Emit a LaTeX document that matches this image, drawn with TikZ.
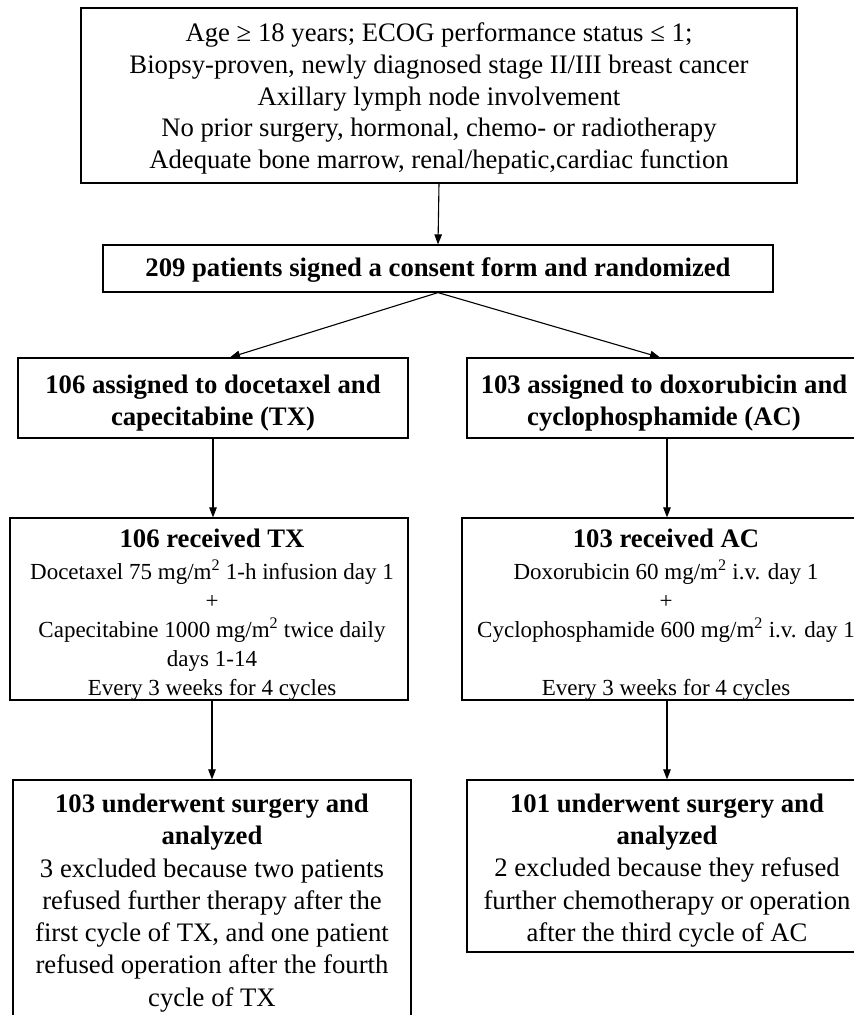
\documentclass[tikz,border=0pt]{standalone}
\usepackage{fontspec}
\setmainfont{Liberation Serif}
\usetikzlibrary{arrows.meta,calc}
\begin{document}
\begin{tikzpicture}[x=1pt,y=-1pt,
  box/.style={draw, line width=1.2pt, inner sep=0pt},
  txt/.style={align=center, inner sep=0pt, font=\fontsize{26.7}{32}\selectfont},
  btxt/.style={txt, font=\fontsize{26.7}{32}\selectfont\bfseries},
  arr/.style={line width=1.1pt, -{Triangle[length=10pt,width=7.5pt]}}]
\useasboundingbox (0,0) rectangle (854,1015);
% boxes
\node[box, minimum width=716pt, minimum height=175pt] (top) at (439,95.5) {};
\node[box, minimum width=670pt, minimum height=47pt] (rand) at (438,268.5) {};
\node[box, minimum width=390pt, minimum height=80pt] (al) at (213,398) {};
\node[box, minimum width=394pt, minimum height=80pt] (ar) at (664,398) {};
\node[box, minimum width=398pt, minimum height=182pt] (rl) at (209,609) {};
\node[box, minimum width=408pt, minimum height=182pt] (rr) at (666,609) {};
\node[box, minimum width=398pt, minimum height=242pt] (sl) at (212,901) {};
\node[box, minimum width=400pt, minimum height=172pt] (sr) at (667,866) {};
% texts
\node[txt, font=\fontsize{26.7}{31.8}\selectfont] (topt) at (439,98.5)
  {Age ≥ 18 years; ECOG performance status ≤ 1;\\
   Biopsy-proven, newly diagnosed stage II/III breast cancer\\
   Axillary lymph node involvement\\
   No prior surgery, hormonal, chemo- or radiotherapy\\
   Adequate bone marrow, renal/hepatic,cardiac function};
\node[btxt] (randt) at (438,270)
  {209 patients signed a consent form and randomized};
\node[btxt] (alt) at (213,403)
  {106 assigned to docetaxel and\\ capecitabine (TX)};
\node[btxt] (art) at (664,403)
  {103 assigned to doxorubicin and\\ cyclophosphamide (AC)};
\node[txt, font=\fontsize{23}{29}\selectfont] (rlt) at (212,614.5)
  {{\fontsize{26.7}{32}\selectfont\bfseries 106 received TX}\\[3pt]
   Docetaxel 75 mg/m\textsuperscript{2} 1-h infusion day 1\\
   +\\
   Capecitabine 1000 mg/m\textsuperscript{2} twice daily\\
   days 1-14\\
   Every 3 weeks for 4 cycles};
\node[txt, font=\fontsize{23}{29}\selectfont] (rrt) at (666,614.5)
  {{\fontsize{26.7}{32}\selectfont\bfseries 103 received AC}\\[3pt]
   Doxorubicin 60 mg/m\textsuperscript{2} i.v. day 1\\
   +\\
   Cyclophosphamide 600 mg/m\textsuperscript{2} i.v. day 1\\
   \strut\\
   Every 3 weeks for 4 cycles};
\node[txt, font=\fontsize{26.7}{32.3}\selectfont] (slt) at (212,903)
  {\textbf{103 underwent surgery and}\\
   \textbf{analyzed}\\
   3 excluded because two patients\\
   refused further therapy after the\\
   first cycle of TX, and one patient\\
   refused operation after the fourth\\
   cycle of TX};
\node[txt, font=\fontsize{26.7}{32.3}\selectfont] (srt) at (667,870.5)
  {\textbf{101 underwent surgery and}\\
   \textbf{analyzed}\\
   2 excluded because they refused\\
   further chemotherapy or operation\\
   after the third cycle of AC};
% connectors
\draw[arr] (top.south) -- (rand.north);
\draw[arr] (rand.south) -- ($(al.north)+(17,0)$);
\draw[arr] (rand.south) -- ($(ar.north)+(-4,0)$);
\draw[arr] (al.south) -- (al.south |- rl.north);
\draw[arr] ($(ar.south)+(3,0)$) -- ($(ar.south |- rr.north)+(3,0)$);
\draw[arr] ($(rl.south)+(3,0)$) -- ($(rl.south |- sl.north)+(3,0)$);
\draw[arr] ($(rr.south)+(1,0)$) -- ($(rr.south |- sr.north)+(1,0)$);
\end{tikzpicture}
\end{document}
